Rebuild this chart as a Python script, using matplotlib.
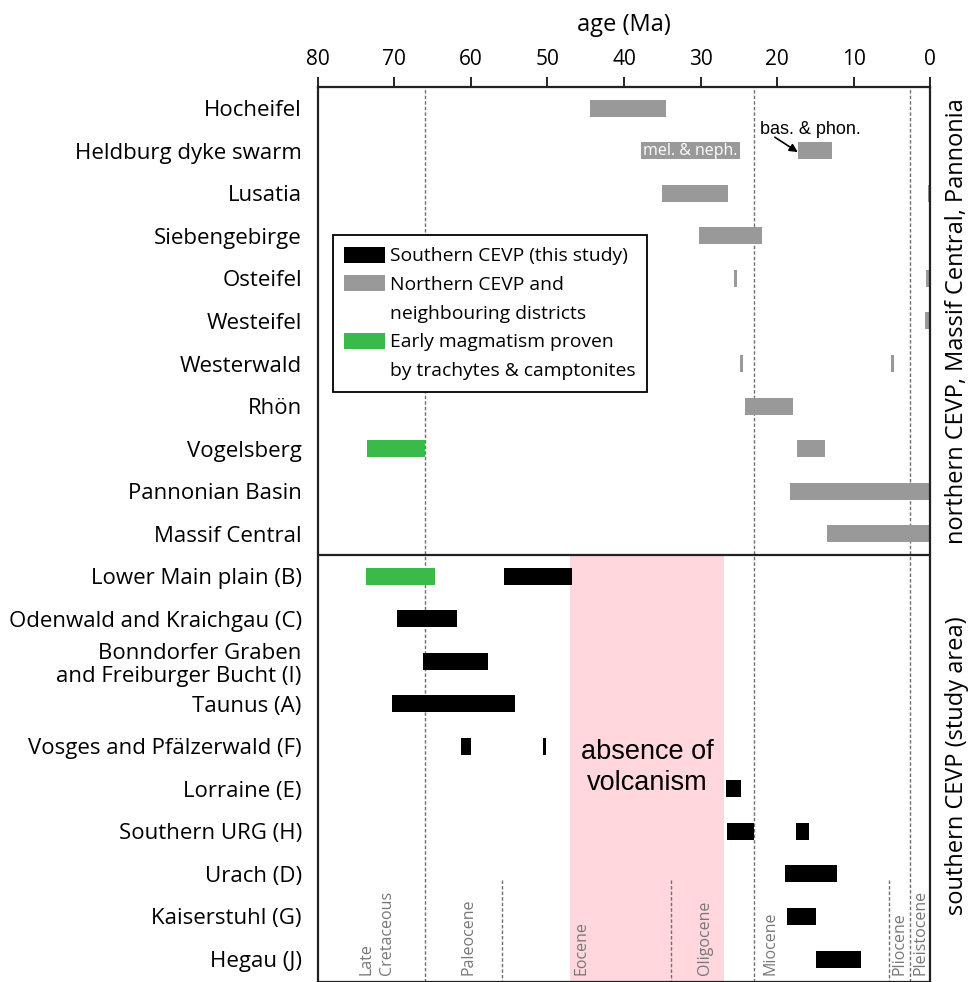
import matplotlib
matplotlib.use("Agg")
import matplotlib.pyplot as plt
from matplotlib.patches import Patch

# Volcanic fields, top to bottom
fields = [
    "Hocheifel", "Heldburg dyke swarm", "Lusatia", "Siebengebirge", "Osteifel",
    "Westeifel", "Westerwald", "Rhön", "Vogelsberg", "Pannonian Basin",
    "Massif Central", "Lower Main plain (B)", "Odenwald and Kraichgau (C)",
    "Bonndorfer Graben\nand Freiburger Bucht (I)", "Taunus (A)",
    "Vosges and Pfälzerwald (F)", "Lorraine (E)", "Southern URG (H)",
    "Urach (D)", "Kaiserstuhl (G)", "Hegau (J)",
]

# Age ranges (Ma): row index, oldest, youngest, group
bar_row = [0, 1, 1, 2, 2, 3, 4, 4, 5, 6, 6, 7, 8, 8, 9, 10,
           11, 11, 12, 13, 14, 15, 15, 16, 17, 17, 18, 19, 20]
bar_old = [44.5, 37.8, 17.3, 35.0, 0.3, 30.2, 25.6, 0.5, 0.7, 24.8, 5.1, 24.2, 73.6, 17.4, 18.3, 13.5,
           73.7, 55.7, 69.6, 66.3, 70.3, 61.3, 50.6, 26.7, 26.5, 17.5, 19.0, 18.7, 14.9]
bar_young = [34.5, 24.8, 12.8, 26.4, 0.0, 22.0, 25.3, 0.1, 0.0, 24.4, 4.7, 17.9, 66.0, 13.7, 0.0, 0.0,
             64.7, 46.8, 61.8, 57.8, 54.2, 60.0, 50.2, 24.7, 23.0, 15.8, 12.2, 14.9, 9.0]
bar_group = ["north", "north", "north", "north", "north", "north", "north", "north", "north",
             "north", "north", "north", "early", "north", "north", "north",
             "early", "south", "south", "south", "south", "south", "south", "south",
             "south", "south", "south", "south", "south"]

group_colors = {"south": "#000000", "north": "#999999", "early": "#3bba4c"}

# Legend lines; continuation lines get no swatch
legend_lines = ["Southern CEVP (this study)", "Northern CEVP and", "neighbouring districts",
                "Early magmatism proven", "by trachytes & camptonites"]
legend_groups = ["south", "north", None, "early", None]

# Period / epoch boundaries (Ma)
full_boundaries = [66.0, 23.0, 2.58]
short_boundaries = [56.0, 33.9, 5.33]
epoch_names = ["Late\nCretaceous", "Paleocene", "Eocene", "Oligocene", "Miocene", "Pliocene", "Pleistocene"]
epoch_pos = [72.3, 60.3, 45.5, 29.4, 20.9, 4.05, 1.3]

# Gap in volcanic activity (Ma)
gap_old, gap_young = 47.0, 27.0

fig = plt.figure(figsize=(9.69, 9.82), dpi=100)
ax = fig.add_axes([0.328, 0.0, 0.632, 0.9114])

label_font = ["Open Sans", "DejaVu Sans"]
n = len(fields)
ax.set_xlim(80, 0)
ax.set_ylim(n - 0.46, -0.5)

# Gap shading only within the southern section
ax.fill_betweenx([10.5, n], gap_old, gap_young, color="#ffd7dc", lw=0, zorder=0)

dash = (0, (2.5, 1.5))
for b in full_boundaries:
    ax.axvline(b, color="#707070", lw=1.0, ls=dash, zorder=1)
for b in short_boundaries:
    ax.plot([b, b], [18.15, n], color="#707070", lw=1.0, ls=dash, zorder=1)

ax.axhline(10.5, color="#222222", lw=1.6, zorder=3)

for r, o, y, g in zip(bar_row, bar_old, bar_young, bar_group):
    ax.barh(r, o - y, left=y, height=0.4, color=group_colors[g], zorder=2)

# Inline annotations on the Heldburg dyke swarm
ax.text((bar_old[1] + bar_young[1]) / 2, 1, "mel. & neph.", color="white",
        ha="center", va="center", fontsize=11.5, family=label_font, zorder=4)
ax.text(15.7, 0.5, "bas. & phon.", ha="center", va="center", fontsize=13,
        family="Liberation Sans", zorder=4)
ax.annotate("", xy=(bar_old[2], 1.03), xytext=(20.3, 0.68),
            arrowprops=dict(arrowstyle="-|>", color="black", lw=1.2,
                            mutation_scale=12, shrinkA=0, shrinkB=0),
            zorder=4)

ax.text((gap_old + gap_young) / 2, 15.5, "absence of\nvolcanism", ha="center", va="center",
        fontsize=19.5, family="Liberation Sans", linespacing=1.25, zorder=4)

for name, x in zip(epoch_names, epoch_pos):
    ax.text(x, 20.38, name, rotation=90, ha="center", va="bottom", color="#777777",
            fontsize=11.5, family=label_font, linespacing=1.45, multialignment="left")

ax.set_yticks(range(n))
ax.set_yticklabels(fields, fontsize=16, family=label_font, linespacing=1.15)
ax.tick_params(axis="y", length=0, pad=11.5)

ax.xaxis.tick_top()
ax.xaxis.set_label_position("top")
ax.set_xticks(range(80, -1, -10))
ax.tick_params(axis="x", direction="out", length=7, width=1.2, labelsize=15, pad=5)
for t in ax.get_xticklabels():
    t.set_family(label_font)
ax.set_xlabel("age (Ma)", fontsize=17, family=label_font, labelpad=13)

for s in ax.spines.values():
    s.set_linewidth(1.6)
    s.set_color("#222222")

side = ax.get_yaxis_transform()
ax.text(1.044, 5.0, "northern CEVP, Massif Central, Pannonia", transform=side,
        rotation=90, ha="center", va="center", fontsize=17, family=label_font)
ax.text(1.044, 15.45, "southern CEVP (study area)", transform=side,
        rotation=90, ha="center", va="center", fontsize=17, family=label_font)

handles = [Patch(facecolor=group_colors[g] if g else "none", edgecolor="none") for g in legend_groups]
leg = ax.legend(handles, legend_lines, loc="upper left", bbox_to_anchor=(0.0245, 0.8346),
                borderaxespad=0, prop={"family": label_font, "size": 13.9}, frameon=True,
                fancybox=False, edgecolor="black", framealpha=1, handlelength=2.1,
                handleheight=0.9, handletextpad=0.25, labelspacing=0.52, borderpad=0.6)
leg.get_frame().set_linewidth(1.3)
leg.set_zorder(5)

fig.savefig("out.png", dpi=100)
